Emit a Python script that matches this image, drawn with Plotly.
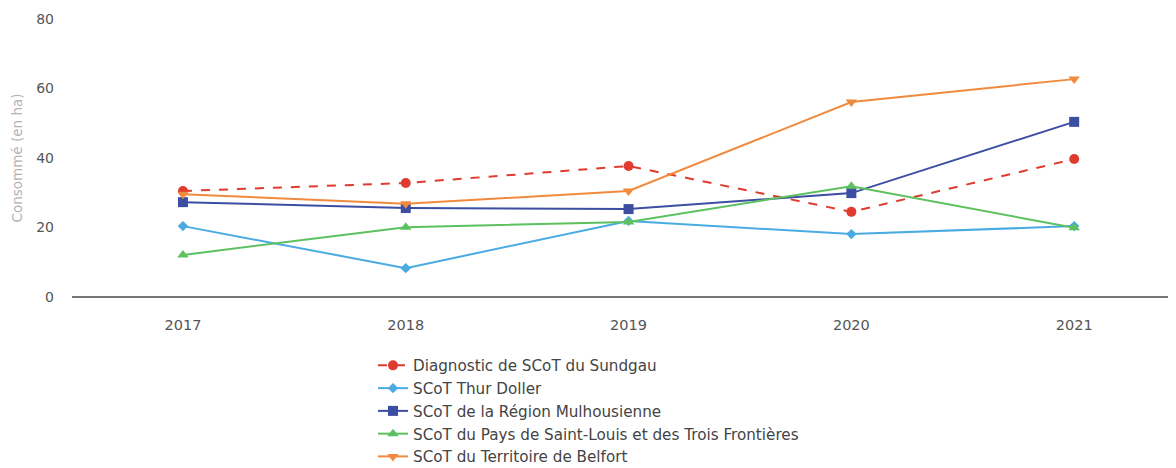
import plotly.graph_objects as go

years = [2017, 2018, 2019, 2020, 2021]
names = [
    "Diagnostic de SCoT du Sundgau",
    "SCoT Thur Doller",
    "SCoT de la Région Mulhousienne",
    "SCoT du Pays de Saint-Louis et des Trois Frontières",
    "SCoT du Territoire de Belfort",
]
sundgau = [30.5, 32.8, 37.7, 24.5, 39.7]
thur_doller = [20.4, 8.3, 21.9, 18.1, 20.4]
mulhouse = [27.3, 25.6, 25.3, 29.9, 50.4]
saint_louis = [12.1, 20.1, 21.6, 31.9, 19.9]
belfort = [29.6, 26.8, 30.5, 56.1, 62.7]
y_ticks = [0, 20, 40, 60, 80]

series = [sundgau, thur_doller, mulhouse, saint_louis, belfort]
colors = ["#e03b2f", "#4aabe3", "#3b4ea2", "#5dc160", "#f08a3e"]
symbols = ["circle", "diamond", "square", "triangle-up", "triangle-down"]
dashes = ["dash", "solid", "solid", "solid", "solid"]
sizes = [10, 8, 10, 10, 10]

fig = go.Figure()
for n, s, c, sym, d, sz in zip(names, series, colors, symbols, dashes, sizes):
    fig.add_trace(go.Scatter(
        x=years, y=s, name=n, mode="lines+markers", legendgroup=n,
        line=dict(color=c, width=2, dash=d),
        marker=dict(symbol=sym, size=sz, color=c),
    ))

# page has an 8px body margin: figure spans page x 8..1176, y 8..468
fig.update_layout(
    width=1168, height=460,
    margin=dict(l=64, r=0, t=11, b=171, autoexpand=False),
    paper_bgcolor="white", plot_bgcolor="white",
    font=dict(family="DejaVu Sans", size=14, color="#555555"),
    showlegend=True,
    legend=dict(
        orientation="v", x=301 / 1104, xanchor="left",
        y=-0.187, yanchor="top",
        font=dict(size=15.2, color="#444444"), tracegroupgap=0, itemwidth=30,
    ),
    xaxis=dict(
        range=[2016.502, 2021.457], tickvals=years, ticktext=[str(y) for y in years],
        showgrid=False, zeroline=False, showline=False, ticks="",
        ticklabelstandoff=17, automargin=False,
        tickfont=dict(size=14.5, color="#555555"),
    ),
    yaxis=dict(
        range=[0, 80], tickvals=y_ticks, showgrid=False, zeroline=True,
        zerolinecolor="#777777", zerolinewidth=1.5,
        showline=False, ticks="", ticklabelstandoff=17, automargin=False,
        title=dict(text="Consommé (en ha)", font=dict(size=13.5, color="#b3b3b3"), standoff=10),
        tickfont=dict(size=14, color="#555555"),
    ),
)

fig.write_html("out.html")
